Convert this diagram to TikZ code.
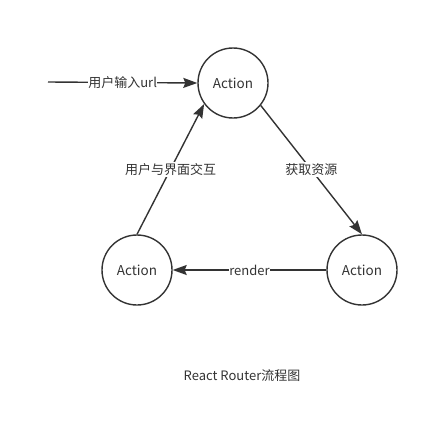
\documentclass[tikz,border=0pt]{standalone}
\usepackage{fontspec}
\setmainfont{Noto Sans CJK SC}
\usetikzlibrary{arrows.meta}
\definecolor{ink}{HTML}{333333}
\begin{document}
\begin{tikzpicture}[x=1pt,y=-1pt,
  act/.style={circle,draw=ink,line width=1.4pt,minimum size=70pt,inner sep=0pt,font=\fontsize{13.5}{15}\selectfont,text=ink},
  conn/.style={draw=ink,line width=1.4pt,-{Stealth[length=14pt,width=10pt,inset=2pt]}},
  lbl/.style={fill=white,inner xsep=0.3pt,inner ysep=1.5pt,font=\fontsize{13}{15}\selectfont,text=ink}]
\useasboundingbox (0,0) rectangle (429,431);
\node[act] (T) at (233,83) {Action};
\node[act] (L) at (137,270) {Action};
\node[act] (R) at (362,270) {Action};
\coordinate (S) at (48,82);
\draw[conn] (S) -- node[lbl] {用户输入url} (T.west);
\draw[conn] (T.321) -- node[lbl,pos=0.5] {获取资源} (R.north);
\draw[conn] (R.west) -- node[lbl] {render} (L.east);
\draw[conn] (L.north) -- node[lbl,pos=0.5] {用户与界面交互} (T.216);
\node[text=ink,inner sep=0pt,font=\fontsize{13}{15}\selectfont] (title) at (242,376) {React Router流程图};
\end{tikzpicture}
\end{document}
